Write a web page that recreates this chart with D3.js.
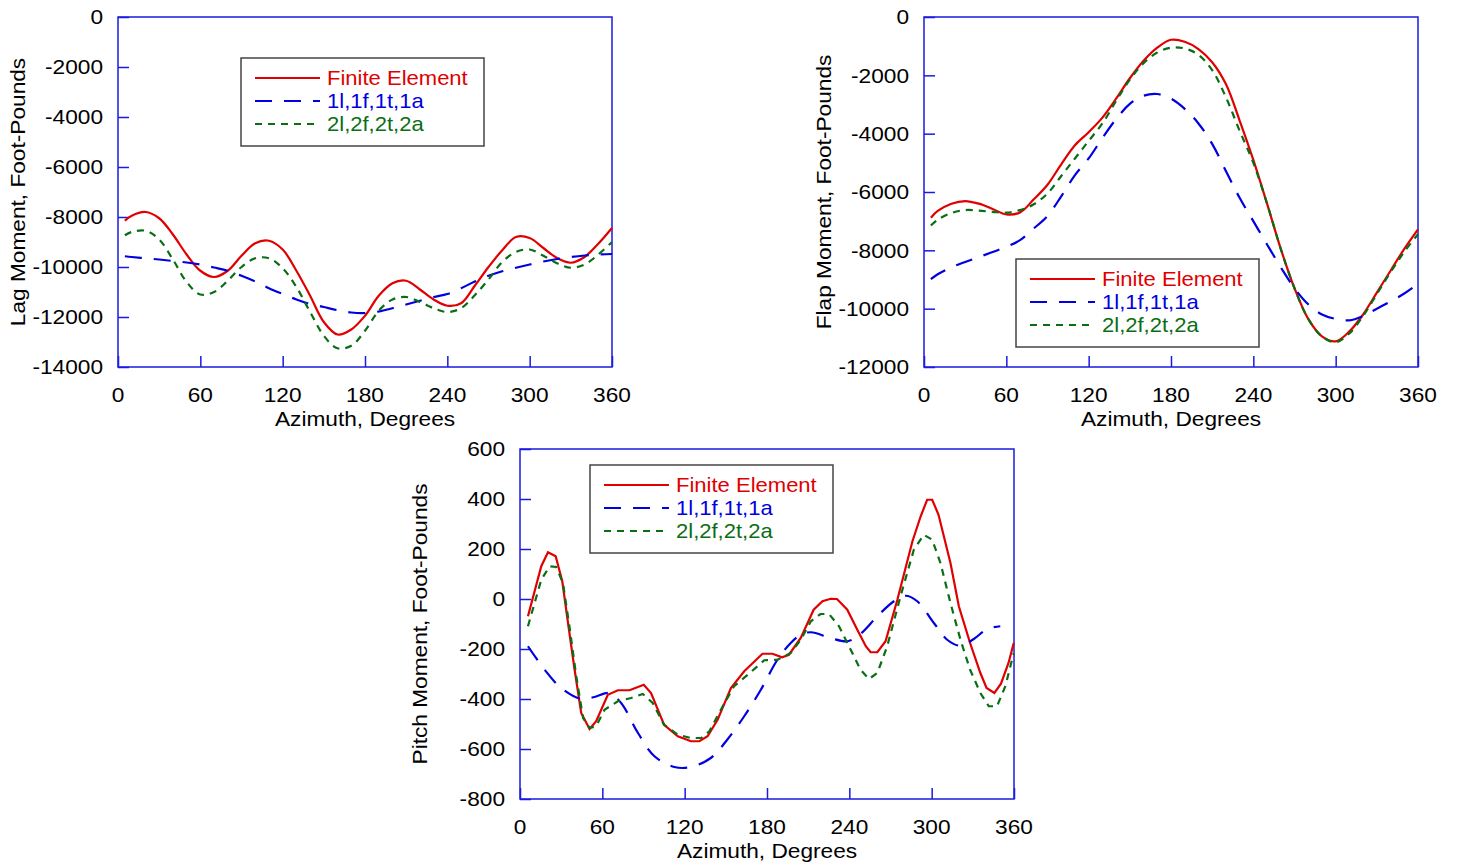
<!DOCTYPE html>
<html lang="en">
<head>
<meta charset="utf-8">
<title>Blade Moments vs Azimuth</title>
<script src="https://d3js.org/d3.v7.min.js"></script>
<style>
  body { margin: 0; background: #fff; font-family: "Liberation Sans", Arial, Helvetica, sans-serif; }
</style>
</head>
<body>
<div id="chart"></div>
<script>
// ---- data ----
const seriesNames = ["Finite Element", "1l,1f,1t,1a", "2l,2f,2t,2a"];
const xTicks = [0, 60, 120, 180, 240, 300, 360];

// lag & flap panels share one azimuth grid
const azGrid = [5, 10, 20, 30, 40, 50, 60, 70, 80, 90, 100, 110, 120, 130, 140, 150, 160, 170, 180,
  190, 200, 210, 220, 230, 240, 250, 260, 270, 280, 290, 300, 310, 320, 330, 340, 350, 360];

const lagFE = [-8150, -7950, -7800, -8050, -8700, -9500, -10150, -10400, -10150, -9550, -9050, -8950, -9300,
  -10150, -11150, -12200, -12700, -12500, -11950, -11150, -10650, -10550, -10900, -11300, -11550, -11450,
  -10750, -10000, -9330, -8800, -8840, -9240, -9640, -9830, -9600, -9070, -8440];
const lag1 = [-9570, -9600, -9650, -9700, -9760, -9820, -9900, -10020, -10150, -10350, -10580, -10850, -11080,
  -11300, -11480, -11600, -11730, -11820, -11840, -11780, -11650, -11500, -11350, -11200, -11080, -10850,
  -10580, -10350, -10170, -10030, -9900, -9780, -9680, -9600, -9540, -9500, -9480];
const lag2 = [-8730, -8600, -8550, -8900, -9700, -10600, -11100, -11000, -10550, -10000, -9650, -9650, -10050,
  -10800, -11800, -12750, -13250, -13150, -12550, -11750, -11300, -11200, -11400, -11650, -11800, -11650,
  -11130, -10500, -9800, -9400, -9300, -9550, -9850, -10030, -9900, -9500, -9000];
const lagTicks = [0, -2000, -4000, -6000, -8000, -10000, -12000, -14000];

const flapFE = [-6880, -6650, -6400, -6310, -6400, -6580, -6770, -6700, -6250, -5750, -5050, -4400, -3950,
  -3450, -2800, -2100, -1500, -1050, -780, -850, -1100, -1550, -2300, -3550, -4900, -6400, -7950, -9300,
  -10350, -10950, -11120, -10780, -10200, -9450, -8700, -7950, -7280];
const flap1 = [-8990, -8820, -8580, -8400, -8230, -8060, -7880, -7650, -7250, -6820, -6150, -5420, -4850,
  -4150, -3500, -2980, -2700, -2640, -2800, -3150, -3650, -4350, -5280, -6200, -7000, -7800, -8580, -9300,
  -9850, -10200, -10350, -10400, -10250, -10000, -9750, -9480, -9150];
const flap2 = [-7150, -6950, -6720, -6620, -6640, -6680, -6710, -6620, -6420, -6050, -5450, -4850, -4250,
  -3650, -2880, -2150, -1580, -1220, -1050, -1080, -1300, -1820, -2750, -3900, -5000, -6400, -7950, -9300,
  -10350, -10950, -11150, -10850, -10250, -9500, -8750, -8050, -7450];
const flapTicks = [0, -2000, -4000, -6000, -8000, -10000, -12000];

// pitch panel: sampled points, each series on its own azimuths
const pitchAzFE = [5.8, 15.5, 20.4, 26, 30.8, 35, 39.8, 44.6, 50.7, 55.5, 64, 71.3, 79.8, 90.2, 95.5, 105, 115,
  124.6, 130.7, 136.7, 144, 153.7, 163.4, 176.7, 184, 191, 196, 204.6, 214, 220.4, 226.4, 231, 238.5, 245.8,
  252, 255.5, 260.4, 266.4, 275, 286, 292, 296.7, 300.4, 305, 313.7, 319.8, 328, 335.5, 340, 345.7, 350.5, 356, 359.8];
const pitchFE = [-69, 131, 187, 171, 71, -96, -283, -456, -520, -489, -383, -365, -365, -343, -376, -503, -549,
  -569, -569, -549, -483, -356, -289, -219, -219, -233, -223, -156, -43, -9, 1, 0, -43, -123,
  -189, -213, -213, -169, -3, 231, 331, 397, 397, 337, 144, -29, -176, -296, -356, -376, -339, -256, -176];
const pitchAz1 = [5.8, 18, 30, 44.6, 54.3, 65, 73.7, 86, 98, 112.5, 124.6, 139, 151, 163.4, 175.5, 187.6, 197.3,
  204.6, 212, 226.4, 238.5, 248.2, 260.4, 272.5, 281, 289.5, 301.6, 311.3, 321, 330.7, 340.4, 350];
const pitch1 = [-189, -283, -356, -400, -392, -376, -416, -536, -629, -672, -672, -636, -563, -469, -363, -243, -176,
  -143, -133, -156, -169, -139, -69, -9, 13, -9, -96, -163, -187, -160, -120, -109];
const pitchAz2 = [5.8, 15.5, 21.6, 26.4, 31.3, 36, 41, 46, 50.7, 55.5, 61.6, 71.3, 81, 89.5, 96.7, 105, 115, 124.6,
  132, 138, 146.4, 156, 166, 178, 187.6, 197.3, 204.6, 212, 219, 225.2, 232.5, 241, 248.2, 254.3, 260.4,
  267.6, 277.3, 287, 294.3, 300.4, 306.4, 313.7, 321, 328, 335.5, 341.6, 347.6, 353.7, 359.8];
const pitch2 = [-109, 77, 131, 128, 64, -109, -309, -476, -516, -509, -443, -409, -396, -380, -416, -503, -543, -556,
  -556, -529, -443, -349, -303, -245, -243, -216, -163, -89, -60, -60, -109, -203, -283, -320, -296,
  -189, 11, 197, 257, 237, 144, -16, -163, -283, -376, -429, -429, -349, -216];
const pitchTicks = [600, 400, 200, 0, -200, -400, -600, -800];

// ---- styling ----
const colors = ["#e00000", "#0000e0", "#0a6e14"];
const dashes = [null, "17,12", "7,6"];
const frameColor = "#1a1ae0";
const fontSize = 21;
const stretch = 1.08; // reference glyphs are a bit wide

const svg = d3.select("#chart").append("svg")
  .attr("width", 1458).attr("height", 862);

// text helper: horizontally widened text at (x, y), vertically centred
function label(g, x, y, str, anchor, size, color, rotate) {
  return g.append("text")
    .attr("transform", `translate(${x},${y})` + (rotate ? " rotate(-90)" : "") + ` scale(${stretch},1)`)
    .attr("text-anchor", anchor)
    .attr("dominant-baseline", "central")
    .attr("font-size", size)
    .attr("fill", color)
    .text(str);
}

function drawPanel(p) {
  const x = d3.scaleLinear().domain([0, 360]).range([p.left, p.left + 494]);
  const y = d3.scaleLinear().domain(p.yDomain).range([p.top + 350, p.top]);
  const g = svg.append("g");

  // frame
  g.append("rect")
    .attr("x", p.left).attr("y", p.top)
    .attr("width", 494).attr("height", 350)
    .attr("fill", "none").attr("stroke", frameColor).attr("stroke-width", 1.5);

  // inward ticks (bottom and left only)
  const xAxis = d3.axisBottom(x).tickValues(xTicks).tickSize(-11).tickFormat("");
  const xg = g.append("g").attr("transform", `translate(0,${p.top + 350})`).call(xAxis);
  const yAxis = d3.axisLeft(y).tickValues(p.yTicks).tickSize(-11).tickFormat("");
  const yg = g.append("g").attr("transform", `translate(${p.left},0)`).call(yAxis);
  [xg, yg].forEach(a => {
    a.select(".domain").remove();
    a.selectAll("line").attr("stroke", frameColor).attr("stroke-width", 1.5);
  });

  // tick labels
  xTicks.forEach(d => label(g, x(d), p.top + 378, d, "middle", fontSize, "#000"));
  p.yTicks.forEach(d => label(g, p.left - 15, y(d), d, "end", fontSize, "#000"));

  // axis titles
  label(g, p.left + 247, p.top + 402, "Azimuth, Degrees", "middle", fontSize, "#000");
  label(g, p.left - 100, p.top + 175, p.yLabel, "middle", fontSize, "#000", true);

  // series
  p.series.forEach((s, i) => {
    const pts = s.az.map((a, k) => [a, s.v[k]]);
    const line = d3.line().x(d => x(d[0])).y(d => y(d[1])).curve(p.curves[i]);
    g.append("path")
      .attr("d", line(pts))
      .attr("fill", "none")
      .attr("stroke", colors[i])
      .attr("stroke-width", 2.2)
      .attr("stroke-dasharray", dashes[i]);
  });

  // legend
  const lg = g.append("g").attr("transform", `translate(${p.legend[0]},${p.legend[1]})`);
  lg.append("rect").attr("width", 243).attr("height", 88)
    .attr("fill", "#fff").attr("stroke", "#444").attr("stroke-width", 1.5);
  seriesNames.forEach((name, i) => {
    const yy = 20 + 23 * i;
    lg.append("line").attr("x1", 14).attr("x2", 79).attr("y1", yy).attr("y2", yy)
      .attr("stroke", colors[i]).attr("stroke-width", 2)
      .attr("stroke-dasharray", dashes[i]);
    label(lg, 86, yy, name, "start", 20.4, colors[i]);
  });
}

const smooth = d3.curveCatmullRom;

drawPanel({
  left: 118, top: 17, yDomain: [-14000, 0], yTicks: lagTicks,
  yLabel: "Lag Moment, Foot-Pounds", legend: [241, 58],
  curves: [smooth, smooth, smooth],
  series: [{az: azGrid, v: lagFE}, {az: azGrid, v: lag1}, {az: azGrid, v: lag2}]
});

drawPanel({
  left: 924, top: 17, yDomain: [-12000, 0], yTicks: flapTicks,
  yLabel: "Flap Moment, Foot-Pounds", legend: [1016, 259],
  curves: [smooth, smooth, smooth],
  series: [{az: azGrid, v: flapFE}, {az: azGrid, v: flap1}, {az: azGrid, v: flap2}]
});

drawPanel({
  left: 520, top: 449, yDomain: [-800, 600], yTicks: pitchTicks,
  yLabel: "Pitch Moment, Foot-Pounds", legend: [590, 465],
  curves: [d3.curveLinear, smooth, d3.curveLinear],
  series: [{az: pitchAzFE, v: pitchFE}, {az: pitchAz1, v: pitch1}, {az: pitchAz2, v: pitch2}]
});
</script>
</body>
</html>
